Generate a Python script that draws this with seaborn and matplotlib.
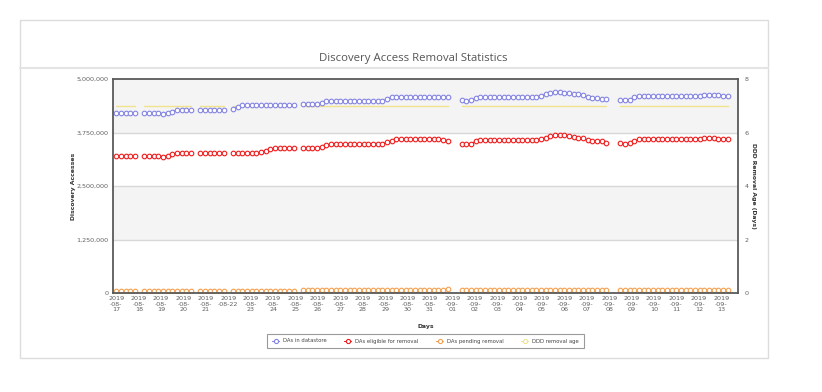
import pandas as pd
import seaborn as sns
import matplotlib.pyplot as plt
from matplotlib.lines import Line2D
from matplotlib.patches import Rectangle
from matplotlib.ticker import FuncFormatter

# one sample every 5 hours starting 2019-08-17 00:00, None = missing sample
sample_hours = 5
day_dates = pd.date_range("2019-08-17", "2019-09-13", freq="D")

# DAs in datastore (millions)
in_datastore = [
    4.20, 4.20, 4.20, 4.20, 4.20, None,
    4.20, 4.20, 4.20, 4.20, 4.19, 4.21, 4.24, 4.27, 4.28, 4.28, 4.28, None,
    4.27, 4.27, 4.27, 4.27, 4.27, 4.27, None,
    4.31, 4.35, 4.39, 4.39, 4.39, 4.39, 4.39, 4.39, 4.39, 4.39, 4.39, 4.39, 4.39, 4.39, None,
    4.41, 4.41, 4.41, 4.41, 4.44, 4.48, 4.48, 4.48, 4.48, 4.48, 4.48, 4.48, 4.48, 4.48, 4.48, 4.48,
    4.48, 4.48, 4.53, 4.57, 4.59, 4.59, 4.59, 4.59, 4.59, 4.59, 4.59, 4.59, 4.59, 4.59, 4.59, 4.59,
    None, None,
    4.50, 4.49, 4.50, 4.55, 4.58, 4.59, 4.59, 4.59, 4.59, 4.59, 4.59, 4.59, 4.59, 4.59, 4.59, 4.59,
    4.59, 4.61, 4.64, 4.67, 4.69, 4.70, 4.68, 4.67, 4.65, 4.64, 4.62, 4.58, 4.56, 4.55, 4.54, 4.53,
    None, None,
    4.51, 4.50, 4.52, 4.57, 4.60, 4.60, 4.60, 4.60, 4.60, 4.60, 4.60, 4.60, 4.60, 4.60, 4.60, 4.60,
    4.60, 4.60, 4.62, 4.63, 4.63, 4.62, 4.61, 4.61,
]

# DAs eligible for removal (millions)
eligible = [
    3.19, 3.19, 3.19, 3.19, 3.19, None,
    3.19, 3.19, 3.19, 3.19, 3.18, 3.21, 3.24, 3.27, 3.28, 3.28, 3.28, None,
    3.27, 3.27, 3.27, 3.27, 3.27, 3.27, None,
    3.27, 3.27, 3.27, 3.27, 3.27, 3.27, 3.29, 3.32, 3.36, 3.39, 3.39, 3.39, 3.39, 3.39, None,
    3.38, 3.38, 3.38, 3.38, 3.41, 3.45, 3.48, 3.49, 3.49, 3.49, 3.49, 3.49, 3.49, 3.49, 3.49, 3.49,
    3.49, 3.49, 3.52, 3.56, 3.59, 3.60, 3.60, 3.60, 3.60, 3.60, 3.60, 3.60, 3.60, 3.60, 3.58, 3.56,
    None, None,
    3.48, 3.47, 3.49, 3.54, 3.57, 3.58, 3.58, 3.58, 3.58, 3.58, 3.58, 3.58, 3.58, 3.58, 3.58, 3.58,
    3.58, 3.60, 3.63, 3.66, 3.68, 3.69, 3.68, 3.66, 3.65, 3.63, 3.61, 3.57, 3.55, 3.54, 3.54, 3.51,
    None, None,
    3.50, 3.49, 3.50, 3.56, 3.59, 3.59, 3.59, 3.59, 3.59, 3.59, 3.59, 3.59, 3.59, 3.59, 3.59, 3.59,
    3.59, 3.59, 3.61, 3.61, 3.61, 3.60, 3.59, 3.59,
]

# DAs pending removal (millions)
pending = [
    0.045, 0.045, 0.045, 0.045, 0.045, None,
    0.045, 0.045, 0.045, 0.045, 0.045, 0.045, 0.045, 0.045, 0.045, 0.045, 0.045, None,
    0.045, 0.045, 0.045, 0.045, 0.045, 0.045, None,
    0.045, 0.045, 0.045, 0.045, 0.045, 0.045, 0.045, 0.045, 0.045, 0.045, 0.045, 0.045, 0.045, 0.045, None,
    0.060, 0.060, 0.060, 0.060, 0.060, 0.060, 0.060, 0.060, 0.060, 0.060, 0.060, 0.060, 0.060, 0.060, 0.060, 0.060,
    0.060, 0.060, 0.060, 0.060, 0.060, 0.060, 0.060, 0.060, 0.060, 0.060, 0.060, 0.060, 0.060, 0.060, 0.060, 0.100,
    None, None,
    0.060, 0.060, 0.060, 0.060, 0.060, 0.060, 0.060, 0.060, 0.060, 0.060, 0.060, 0.060, 0.060, 0.060, 0.060, 0.060,
    0.060, 0.060, 0.060, 0.060, 0.060, 0.060, 0.060, 0.060, 0.060, 0.060, 0.060, 0.060, 0.060, 0.060, 0.060, 0.060,
    None, None,
    0.060, 0.060, 0.060, 0.060, 0.060, 0.060, 0.060, 0.060, 0.060, 0.060, 0.060, 0.060, 0.060, 0.060, 0.060, 0.060,
    0.065, 0.070, 0.075, 0.080, 0.080, 0.080, 0.075, 0.075,
]

# DDD removal age (days)
removal_age = [
    7, 7, 7, 7, 7, None,
    7, 7, 7, 7, 7, 7, 7, 7, 7, 7, 7, None,
    7, 7, 7, 7, 7, 7, None,
    7, 7, 7, 7, 7, 7, 7, 7, 7, 7, 7, 7, 7, 7, None,
    7, 7, 7, 7, 7, 7, 7, 7, 7, 7, 7, 7, 7, 7, 7, 7,
    7, 7, 7, 7, 7, 7, 7, 7, 7, 7, 7, 7, 7, 7, 7, 7,
    None, None,
    7, 7, 7, 7, 7, 7, 7, 7, 7, 7, 7, 7, 7, 7, 7, 7,
    7, 7, 7, 7, 7, 7, 7, 7, 7, 7, 7, 7, 7, 7, 7, 7,
    None, None,
    7, 7, 7, 7, 7, 7, 7, 7, 7, 7, 7, 7, 7, 7, 7, 7,
    7, 7, 7, 7, 7, 7, 7, 7,
]

series_names = ["DAs in datastore", "DAs eligible for removal", "DAs pending removal", "DDD removal age"]
colors = ["#8484e4", "#f01c1c", "#f5a04e", "#efe48c"]


def to_frame(vals, scale):
    rows = []
    seg = 0
    for i, v in enumerate(vals):
        if v is None:
            seg += 1
            continue
        rows.append({"day": i * sample_hours / 24, "value": v * scale, "segment": seg})
    return pd.DataFrame(rows)


sns.set_style("white")
plt.rcParams["font.family"] = ["DejaVu Sans"]

W, H = 822, 392
fig = plt.figure(figsize=(W / 100, H / 100), dpi=100)


def fx(x):
    return x / W


def fy(y):
    return 1 - y / H


# outer panel
fig.add_artist(Rectangle((fx(20), fy(358)), fx(768) - fx(20), fy(20) - fy(358),
                         transform=fig.transFigure, fill=False, edgecolor="#dcdcdc", lw=1))
fig.add_artist(Line2D([fx(20), fx(768)], [fy(68), fy(68)], transform=fig.transFigure,
                      color="#e4e4e4", lw=1.5))

ax = fig.add_axes([fx(113), fy(293), fx(738) - fx(113), fy(79) - fy(293)])
ax2 = ax.twinx()
ax.set_zorder(ax2.get_zorder() + 1)
ax.patch.set_visible(False)
ax2.set_facecolor("white")

# alternating bands + grid on the background axis (0-8 scale == 0-5M scale)
for lo, hi in [(2, 4), (6, 8)]:
    ax2.axhspan(lo, hi, color="#f4f4f4", lw=0, zorder=0)
for g in [2, 4, 6]:
    ax2.axhline(g, color="#d8d8d8", lw=1, zorder=1)

df_age = to_frame(removal_age, 1)
sns.lineplot(data=df_age, x="day", y="value", units="segment", estimator=None, ax=ax2,
             color=colors[3], lw=1, sort=False)

for vals, c in zip([pending, eligible, in_datastore], [colors[2], colors[1], colors[0]]):
    d = to_frame(vals, 1e6)
    sns.lineplot(data=d, x="day", y="value", units="segment", estimator=None, ax=ax,
                 color=c, lw=0.8, marker="o", markersize=3.3, markerfacecolor="white",
                 markeredgecolor=c, markeredgewidth=0.8, sort=False)

ax.set_xlim(-0.15, 27.75)
ax.set_ylim(0, 5_000_000)
ax2.set_ylim(0, 8)
ax.set_yticks([0, 1_250_000, 2_500_000, 3_750_000, 5_000_000])
ax.yaxis.set_major_formatter(FuncFormatter(lambda v, p: f"{int(v):,}"))
ax2.set_yticks([0, 2, 4, 6, 8])

day_labels = [f"{d:%Y}\n-{d:%m}-\n{d:%d}" for d in day_dates]
day_labels[5] = "2019\n-08-22"
ax.set_xticks(range(len(day_dates)))
ax.set_xticklabels(day_labels, linespacing=1.1)

ax.set_xlabel("")
ax.set_ylabel("")
ax2.set_ylabel("")
ax.tick_params(axis="both", length=0, labelsize=4.6, labelcolor="#606060", pad=2.5)
ax.tick_params(axis="y", pad=3)
ax2.tick_params(axis="y", length=0, labelsize=4.6, labelcolor="#606060", pad=5)

for s in ax.spines.values():
    s.set_color("#5a5a5a")
    s.set_linewidth(1.3)
for s in ax2.spines.values():
    s.set_visible(False)

fig.text(fx(413), fy(59), "Discovery Access Removal Statistics", ha="center", va="center",
         fontsize=8.2, color="#555555", family=["Open Sans", "DejaVu Sans"])
fig.text(fx(73), fy(186), "Discovery Accesses", rotation=90, ha="center", va="center",
         fontsize=4.4, weight="bold", color="#333333")
fig.text(fx(753), fy(186), "DDD Removal Age (Days)", rotation=270, ha="center", va="center",
         fontsize=4.4, weight="bold", color="#333333")
fig.text(fx(426), fy(326.5), "Days", ha="center", va="center",
         fontsize=4.4, weight="bold", color="#333333")

handles = [Line2D([], [], color=c, lw=0.8, marker="o", markersize=3, markerfacecolor="white",
                  markeredgecolor=c, markeredgewidth=0.8) for c in colors]
leg = fig.legend(handles, series_names, loc="center", bbox_to_anchor=(fx(425.5), fy(341)),
                 ncol=4, fontsize=3.8, frameon=True, fancybox=False, edgecolor="#9a9a9a",
                 framealpha=1, borderpad=0.9, handlelength=1.3, handletextpad=0.7,
                 columnspacing=3.4)
leg.get_frame().set_linewidth(0.8)
for t in leg.get_texts():
    t.set_color("#444444")

fig.savefig("out.png", dpi=100)
